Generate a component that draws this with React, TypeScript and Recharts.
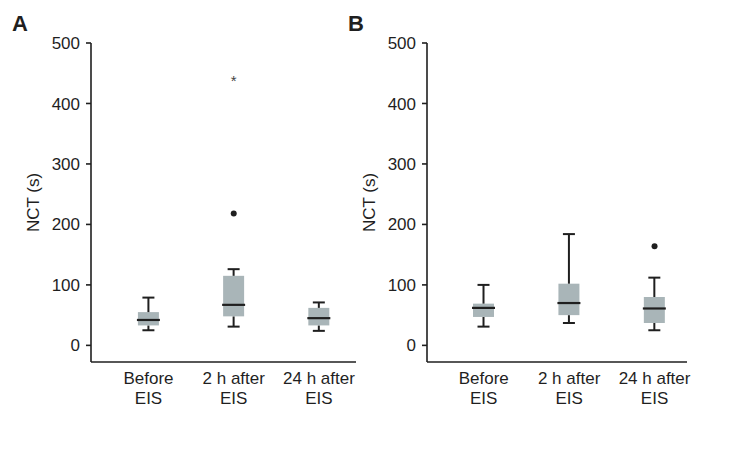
import { Bar, ComposedChart, Scatter, XAxis, YAxis } from "recharts"

const categories = ["Before EIS", "2 h after EIS", "24 h after EIS"]
const yTicks = [0, 100, 200, 300, 400, 500]

// panel A (box stats per category)
const minA = [25, 31, 24]
const q1A = [33, 48, 33]
const medA = [42, 67, 45]
const q3A = [55, 115, 62]
const maxA = [79, 126, 71]
const outA = [
  { x: 2, y: 218, kind: "dot" },
  { x: 2, y: 440, kind: "star" },
]

// panel B
const minB = [31, 37, 25]
const q1B = [47, 50, 37]
const medB = [62, 70, 61]
const q3B = [69, 102, 80]
const maxB = [100, 184, 112]
const outB = [{ x: 3, y: 164, kind: "dot" }]

const INK = "#1f1f1f"
const BOX = "#a9b5b8"
const FONT = "'Liberation Sans', Arial, sans-serif"

function buildRows(mins: number[], q1: number[], med: number[], q3: number[], max: number[]) {
  return categories.map((_, i) => ({
    x: i + 1,
    base: mins[i],
    lw: q1[i] - mins[i],
    bl: med[i] - q1[i],
    bu: q3[i] - med[i],
    uw: max[i] - q3[i],
  }))
}

const LowerWhisker = (p: any) => {
  const cx = p.x + p.width / 2
  return (
    <g stroke={INK} strokeWidth={2}>
      <line x1={cx} x2={cx} y1={p.y} y2={p.y + p.height} />
      <line x1={cx - 6} x2={cx + 6} y1={p.y + p.height} y2={p.y + p.height} />
    </g>
  )
}

const UpperWhisker = (p: any) => {
  const cx = p.x + p.width / 2
  return (
    <g stroke={INK} strokeWidth={2}>
      <line x1={cx} x2={cx} y1={p.y} y2={p.y + p.height} />
      <line x1={cx - 6} x2={cx + 6} y1={p.y} y2={p.y} />
    </g>
  )
}

const BoxLower = (p: any) => <rect x={p.x} y={p.y} width={p.width} height={p.height} fill={BOX} />

const BoxUpper = (p: any) => (
  <g>
    <rect x={p.x} y={p.y} width={p.width} height={p.height} fill={BOX} />
    <line x1={p.x - 1} x2={p.x + p.width + 1} y1={p.y + p.height} y2={p.y + p.height} stroke={INK} strokeWidth={2.2} />
  </g>
)

const Outlier = (p: any) => {
  if (p.payload.kind === "star") {
    return (
      <text x={p.cx} y={p.cy + 7} textAnchor="middle" fontSize={15} fill="#444" fontFamily={FONT}>
        *
      </text>
    )
  }
  return <circle cx={p.cx} cy={p.cy} r={3} fill={INK} />
}

const CatTick = (p: any) => {
  const label = categories[p.payload.value - 1] || ""
  const parts = label.split(" ")
  const first = parts.slice(0, -1).join(" ")
  const second = parts[parts.length - 1]
  return (
    <text x={p.x} y={p.y} textAnchor="middle" fill={INK} fontSize={17} fontFamily={FONT}>
      <tspan x={p.x} dy={20}>{first}</tspan>
      <tspan x={p.x} dy={20}>{second}</tspan>
    </text>
  )
}

const YLabel = (p: any) => {
  const vb = p.viewBox
  const cx = vb.x + 33
  const cy = vb.y + vb.height / 2
  return (
    <text x={cx} y={cy} transform={`rotate(-90 ${cx} ${cy})`} textAnchor="middle" dominantBaseline="central" fill={INK} fontSize={17} fontFamily={FONT}>
      NCT (s)
    </text>
  )
}

function Panel({ rows, outliers, domain, marginRight }: { rows: any[]; outliers: any[]; domain: number[]; marginRight: number }) {
  return (
    <ComposedChart width={360} height={463} data={rows} margin={{ top: 43, right: marginRight, bottom: 0, left: 0 }}>
      <XAxis
        dataKey="x"
        type="number"
        domain={domain}
        ticks={[1, 2, 3]}
        height={101}
        tickLine={false}
        tickSize={0}
        tick={<CatTick />}
        axisLine={{ stroke: INK, strokeWidth: 1.6 }}
        allowDataOverflow
      />
      <YAxis
        type="number"
        domain={[-27.5, 500]}
        ticks={yTicks}
        width={91}
        tickSize={5}
        tickMargin={6}
        tick={{ fill: INK, fontSize: 17, fontFamily: FONT }}
        tickLine={{ stroke: INK, strokeWidth: 1.6 }}
        axisLine={{ stroke: INK, strokeWidth: 1.6 }}
        allowDataOverflow
        label={<YLabel />}
      />
      <Bar dataKey="base" stackId="b" fill="none" barSize={21} isAnimationActive={false} shape={() => <g />} />
      <Bar dataKey="lw" stackId="b" barSize={21} isAnimationActive={false} shape={LowerWhisker} />
      <Bar dataKey="bl" stackId="b" barSize={21} isAnimationActive={false} shape={BoxLower} />
      <Bar dataKey="bu" stackId="b" barSize={21} isAnimationActive={false} shape={BoxUpper} />
      <Bar dataKey="uw" stackId="b" barSize={21} isAnimationActive={false} shape={UpperWhisker} />
      <Scatter data={outliers} dataKey="y" isAnimationActive={false} shape={Outlier} />
    </ComposedChart>
  )
}

export default function App() {
  const rowsA = buildRows(minA, q1A, medA, q3A, maxA)
  const rowsB = buildRows(minB, q1B, medB, q3B, maxB)
  return (
    <div style={{ position: "absolute", left: 0, top: 0, width: 729, height: 463, background: "#fff", fontFamily: FONT }}>
      <div style={{ position: "absolute", left: 0, top: 0 }}>
        <Panel rows={rowsA} outliers={outA} domain={[0.325, 3.435]} marginRight={4} />
      </div>
      <div style={{ position: "absolute", left: 336, top: 0 }}>
        <Panel rows={rowsB} outliers={outB} domain={[0.336, 3.38]} marginRight={9} />
      </div>
      <svg width={729} height={463} style={{ position: "absolute", left: 0, top: 0, pointerEvents: "none" }}>
        <text x={12} y={31} fontSize={22} fontWeight="bold" fill={INK} fontFamily={FONT}>A</text>
        <text x={348} y={31} fontSize={22} fontWeight="bold" fill={INK} fontFamily={FONT}>B</text>
      </svg>
    </div>
  )
}
